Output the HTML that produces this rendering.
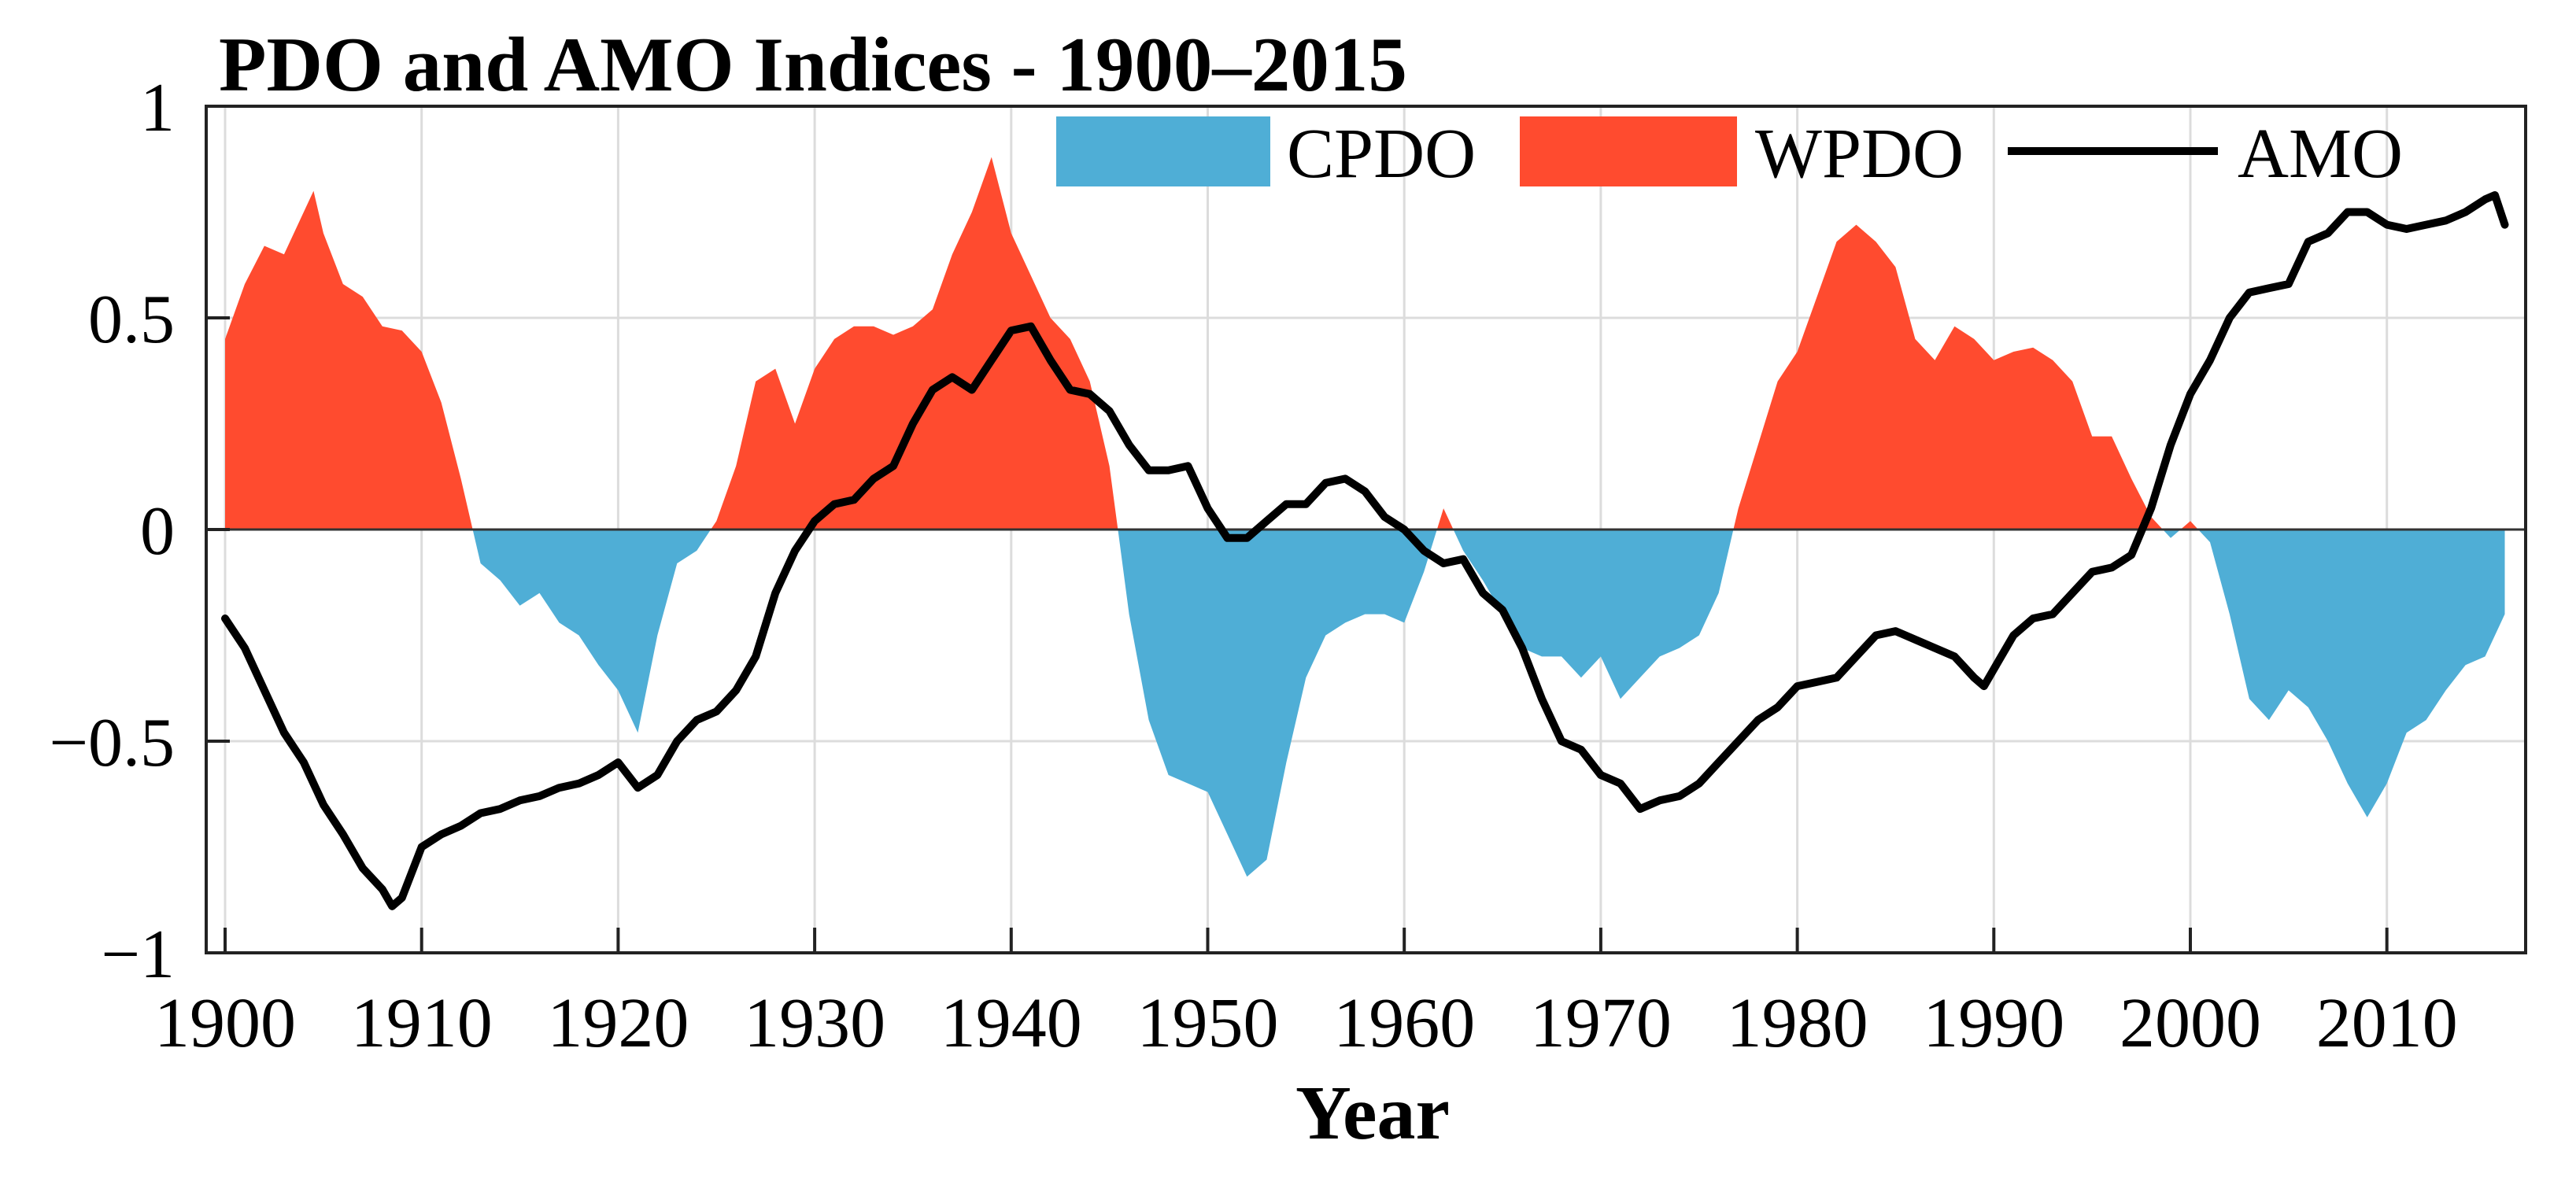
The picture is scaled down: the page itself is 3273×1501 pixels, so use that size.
<!DOCTYPE html>
<html><head><meta charset="utf-8"><style>
html,body{margin:0;padding:0;background:#fff;}
svg{display:block;font-family:"Liberation Serif",serif;}
</style></head><body>
<svg id="chart" width="3273" height="1501" viewBox="0 0 3273 1501" xmlns="http://www.w3.org/2000/svg">
<text x="278" y="115" font-size="99" font-weight="bold">PDO and AMO Indices - 1900–2015</text>
<g id="grid"></g>
<g id="areas"></g>
<g id="lines"></g>
<g id="axes"></g>
<g id="legend">
 <rect x="1342" y="148" width="272" height="89" fill="#4FAED6"/>
 <text x="1635" y="225" font-size="90">CPDO</text>
 <rect x="1931" y="148" width="276" height="89" fill="#FF4B2F"/>
 <text x="2230" y="225" font-size="90">WPDO</text>
 <line x1="2551" y1="192" x2="2818" y2="192" stroke="#000" stroke-width="10"/>
 <text x="2843" y="225" font-size="90">AMO</text>
</g>
<text x="1744" y="1447" font-size="98" font-weight="bold" text-anchor="middle">Year</text>
</svg>
<script>
const pdoYears=[1900,1901,1902,1903,1904,1904.5,1905,1906,1907,1908,1909,1910,1911,1912,1913,1914,1915,1916,1917,1918,1919,1920,1921,1922,1923,1924,1925,1926,1927,1928,1929,1930,1931,1932,1933,1934,1935,1936,1937,1938,1939,1940,1941,1942,1943,1944,1945,1946,1947,1948,1949,1950,1951,1952,1953,1954,1955,1956,1957,1958,1959,1960,1961,1962,1963,1964,1965,1966,1967,1968,1969,1970,1971,1972,1973,1974,1975,1976,1977,1978,1979,1980,1981,1982,1983,1984,1985,1986,1987,1988,1989,1990,1991,1992,1993,1994,1995,1996,1997,1998,1999,2000,2001,2002,2003,2004,2005,2006,2007,2008,2009,2010,2011,2012,2013,2014,2015,2016];
const pdoValues=[0.45,0.58,0.67,0.65,0.75,0.80,0.70,0.58,0.55,0.48,0.47,0.42,0.30,0.12,-0.08,-0.12,-0.18,-0.15,-0.22,-0.25,-0.32,-0.38,-0.48,-0.25,-0.08,-0.05,0.02,0.15,0.35,0.38,0.25,0.38,0.45,0.48,0.48,0.46,0.48,0.52,0.65,0.75,0.88,0.70,0.60,0.50,0.45,0.35,0.15,-0.20,-0.45,-0.58,-0.60,-0.62,-0.72,-0.82,-0.78,-0.55,-0.35,-0.25,-0.22,-0.20,-0.20,-0.22,-0.10,0.05,-0.05,-0.12,-0.20,-0.28,-0.30,-0.30,-0.35,-0.30,-0.40,-0.35,-0.30,-0.28,-0.25,-0.15,0.05,0.20,0.35,0.42,0.55,0.68,0.72,0.68,0.62,0.45,0.40,0.48,0.45,0.40,0.42,0.43,0.40,0.35,0.22,0.22,0.12,0.03,-0.02,0.02,-0.03,-0.20,-0.40,-0.45,-0.38,-0.42,-0.50,-0.60,-0.68,-0.60,-0.48,-0.45,-0.38,-0.32,-0.30,-0.20];
const amoYears=[1900,1901,1902,1903,1904,1905,1906,1907,1908,1908.5,1909,1910,1911,1912,1913,1914,1915,1916,1917,1918,1919,1920,1921,1922,1923,1924,1925,1926,1927,1928,1929,1930,1931,1932,1933,1934,1935,1936,1937,1938,1939,1940,1941,1942,1943,1944,1945,1946,1947,1948,1949,1950,1951,1952,1953,1954,1955,1956,1957,1958,1959,1960,1961,1962,1963,1964,1965,1966,1967,1968,1969,1970,1971,1972,1973,1974,1975,1976,1977,1978,1979,1980,1981,1982,1983,1984,1985,1986,1987,1988,1989,1989.5,1990,1991,1992,1993,1994,1995,1996,1997,1998,1999,2000,2001,2002,2003,2004,2005,2006,2007,2008,2009,2010,2011,2012,2013,2014,2015,2015.5,2016];
const amoValues=[-0.21,-0.28,-0.38,-0.48,-0.55,-0.65,-0.72,-0.80,-0.85,-0.89,-0.87,-0.75,-0.72,-0.70,-0.67,-0.66,-0.64,-0.63,-0.61,-0.60,-0.58,-0.55,-0.61,-0.58,-0.50,-0.45,-0.43,-0.38,-0.30,-0.15,-0.05,0.02,0.06,0.07,0.12,0.15,0.25,0.33,0.36,0.33,0.40,0.47,0.48,0.40,0.33,0.32,0.28,0.20,0.14,0.14,0.15,0.05,-0.02,-0.02,0.02,0.06,0.06,0.11,0.12,0.09,0.03,0.00,-0.05,-0.08,-0.07,-0.15,-0.19,-0.28,-0.40,-0.50,-0.52,-0.58,-0.60,-0.66,-0.64,-0.63,-0.60,-0.55,-0.50,-0.45,-0.42,-0.37,-0.36,-0.35,-0.30,-0.25,-0.24,-0.26,-0.28,-0.30,-0.35,-0.37,-0.33,-0.25,-0.21,-0.20,-0.15,-0.10,-0.09,-0.06,0.05,0.20,0.32,0.40,0.50,0.56,0.57,0.58,0.68,0.70,0.75,0.75,0.72,0.71,0.72,0.73,0.75,0.78,0.79,0.72];
const xTicks=[1900,1910,1920,1930,1940,1950,1960,1970,1980,1990,2000,2010];
const yTicks=[1,0.5,0,-0.5,-1];
const yTickLabels=["1","0.5","0","\u22120.5","\u22121"];

const L=262,R=3209,T=135,B=1211;
const X=y=>286+(y-1900)*24.97;
const Y=v=>673-v*538;
const NS="http://www.w3.org/2000/svg";
function mk(parent,tag,attrs){const e=document.createElementNS(NS,tag);for(const k in attrs)e.setAttribute(k,attrs[k]);parent.appendChild(e);return e;}
const grid=document.getElementById('grid'),areas=document.getElementById('areas'),lines=document.getElementById('lines'),axes=document.getElementById('axes');
xTicks.forEach(t=>{const g=mk(grid,'line',{x1:X(t),x2:X(t),y1:T,y2:B,stroke:'#dcdcdc','stroke-width':3});

});
yTicks.forEach(t=>{if(t===1||t===-1||t===0)return;const g=mk(grid,'line',{x1:L,x2:R,y1:Y(t),y2:Y(t),stroke:'#dcdcdc','stroke-width':3});

});
const pts=[];
for(let i=0;i<pdoYears.length;i++){
 if(i>0){const a=pdoValues[i-1],b=pdoValues[i];if(a*b<0){const t=a/(a-b);pts.push([pdoYears[i-1]+t*(pdoYears[i]-pdoYears[i-1]),0]);}}
 pts.push([pdoYears[i],pdoValues[i]]);
}
function areaPath(fn){let d='M'+X(pts[0][0])+','+Y(0);pts.forEach(p=>{d+=' L'+X(p[0]).toFixed(1)+','+Y(fn(p[1])).toFixed(1);});d+=' L'+X(pts[pts.length-1][0])+','+Y(0)+' Z';return d;}
const pos=mk(areas,'path',{d:areaPath(v=>Math.max(v,0)),fill:'#FF4B2F'});


const neg=mk(areas,'path',{d:areaPath(v=>Math.min(v,0)),fill:'#4FAED6'});


const zl=mk(areas,'line',{x1:L,x2:R,y1:Y(0),y2:Y(0),stroke:'#333','stroke-width':3});


let d='';amoYears.forEach((yr,i)=>{d+=(i?' L':'M')+X(yr).toFixed(1)+','+Y(amoValues[i]).toFixed(1);});
const amo=mk(lines,'path',{d:d,fill:'none',stroke:'#000','stroke-width':10,'stroke-linejoin':'round','stroke-linecap':'round'});


const frame=mk(axes,'rect',{x:L,y:T,width:R-L,height:B-T,fill:'none',stroke:'#222','stroke-width':4});


xTicks.forEach(t=>{const tk=mk(axes,'line',{x1:X(t),x2:X(t),y1:B,y2:B-32,stroke:'#222','stroke-width':4});


const lb=mk(axes,'text',{x:X(t),y:1330,'font-size':90,'text-anchor':'middle'});lb.textContent=t;

});
yTicks.forEach((t,i)=>{const tk=mk(axes,'line',{x1:L,x2:L+30,y1:Y(t),y2:Y(t),stroke:'#222','stroke-width':4});


const lb=mk(axes,'text',{x:222,y:Y(t)+31,'font-size':88,'text-anchor':'end'});lb.textContent=yTickLabels[i];

});
</script>
</body></html>
